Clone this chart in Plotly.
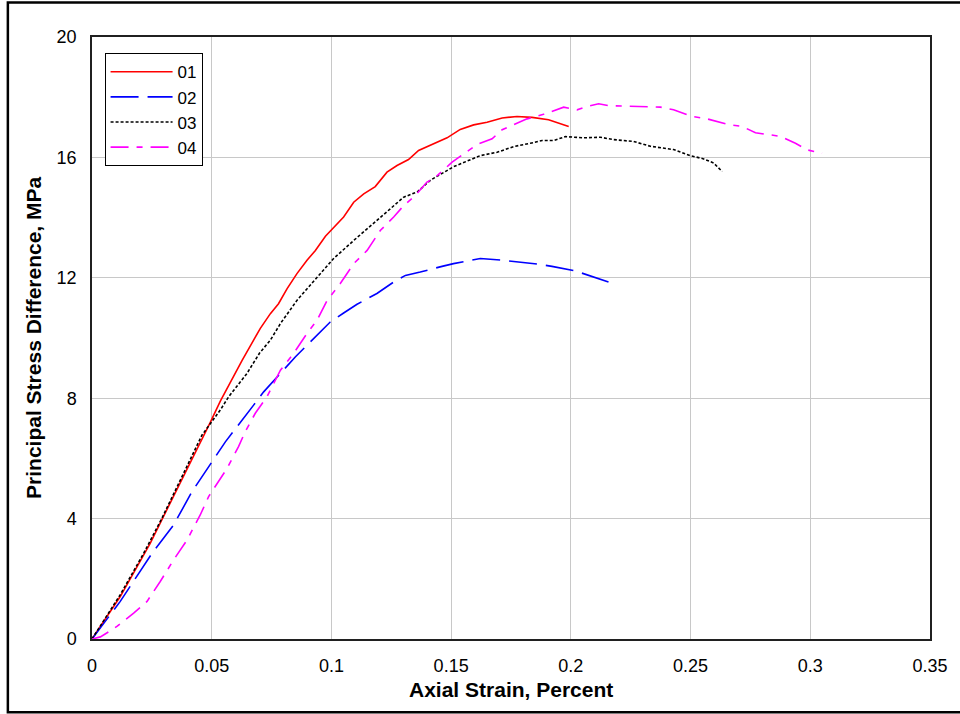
import plotly.graph_objects as go

# ---- data ----
x01 = [0, 0.0118, 0.0243, 0.0327, 0.0376, 0.0424, 0.0494, 0.0536, 0.0585, 0.0627, 0.0675,
       0.0703, 0.0745, 0.0779, 0.0815, 0.0856, 0.0898, 0.0933, 0.0975, 0.1009, 0.1051,
       0.1093, 0.1135, 0.1183, 0.1232, 0.1274, 0.1322, 0.1364, 0.1427, 0.1483, 0.1538,
       0.1594, 0.1650, 0.1713, 0.1775, 0.1838, 0.1907, 0.1991]
y01 = [0, 1.41, 3.18, 4.51, 5.30, 6.05, 7.20, 7.90, 8.66, 9.26, 9.93,
       10.32, 10.81, 11.14, 11.64, 12.14, 12.58, 12.91, 13.38, 13.68, 14.02,
       14.51, 14.79, 15.03, 15.51, 15.73, 15.93, 16.23, 16.45, 16.65, 16.93,
       17.08, 17.17, 17.31, 17.36, 17.33, 17.25, 17.03]

x02 = [0, 0.0118, 0.0251, 0.0341, 0.0418, 0.0557, 0.0675, 0.0717, 0.0849, 0.0898, 0.0995,
       0.1051, 0.1107, 0.1190, 0.1260, 0.1309, 0.1371, 0.1462, 0.1510, 0.1622, 0.1664,
       0.1719, 0.1866, 0.1921, 0.2018, 0.2074, 0.2162]
y02 = [0, 1.25, 2.85, 3.79, 4.90, 6.55, 7.77, 8.21, 9.37, 9.76, 10.53,
       10.83, 11.12, 11.48, 11.86, 12.08, 12.19, 12.38, 12.47, 12.64, 12.61,
       12.58, 12.45, 12.38, 12.23, 12.08, 11.85]

x03 = [0, 0.0118, 0.0216, 0.0292, 0.0369, 0.0459, 0.0536, 0.0571, 0.0647, 0.0700, 0.0745,
       0.0787, 0.0856, 0.0940, 0.1009, 0.1093, 0.1149, 0.1211, 0.1302, 0.1358, 0.1413,
       0.1510, 0.1566, 0.1622, 0.1692, 0.1761, 0.1831, 0.1880, 0.1928, 0.1977, 0.2053,
       0.2123, 0.2179, 0.2262, 0.2332, 0.2429, 0.2499, 0.2555, 0.2597, 0.2632]
y03 = [0, 1.47, 2.85, 4.01, 5.28, 6.77, 7.61, 8.05, 8.82, 9.50, 9.93,
       10.48, 11.25, 12.03, 12.64, 13.24, 13.63, 14.07, 14.68, 14.85, 15.24,
       15.69, 15.87, 16.06, 16.17, 16.36, 16.47, 16.56, 16.56, 16.69, 16.65,
       16.67, 16.59, 16.53, 16.37, 16.26, 16.06, 15.95, 15.81, 15.53]

x04 = [0, 0.0035, 0.0084, 0.0104, 0.0174, 0.0230, 0.0285, 0.0341, 0.0397, 0.0452, 0.0487,
       0.0522, 0.0564, 0.0612, 0.0640, 0.0682, 0.0731, 0.0787, 0.0842, 0.0898, 0.0940,
       0.0982, 0.1037, 0.1093, 0.1149, 0.1204, 0.1260, 0.1302, 0.1350, 0.1399, 0.1427,
       0.1504, 0.1608, 0.1671, 0.1713, 0.1817, 0.1886, 0.1970, 0.2026, 0.2068, 0.2116,
       0.2158, 0.2262, 0.2374, 0.2429, 0.2506, 0.2569, 0.2659, 0.2715, 0.2771, 0.2875,
       0.2938, 0.2987, 0.3049]
y04 = [0, 0.07, 0.31, 0.42, 0.86, 1.25, 1.91, 2.63, 3.29, 4.12, 4.73,
       5.17, 5.67, 6.39, 6.89, 7.50, 8.05, 8.93, 9.49, 10.15, 10.59,
       11.25, 11.81, 12.47, 12.91, 13.57, 14.02, 14.40, 14.73, 15.18, 15.29,
       15.84, 16.43, 16.62, 16.92, 17.28, 17.43, 17.67, 17.58, 17.69, 17.78,
       17.72, 17.69, 17.67, 17.58, 17.36, 17.28, 17.09, 17.03, 16.82, 16.70,
       16.47, 16.25, 16.14]

series_names = ["01", "02", "03", "04"]

x_tickvals = [0, 0.05, 0.1, 0.15, 0.2, 0.25, 0.3, 0.35]
x_ticktext = ["0", "0.05", "0.1", "0.15", "0.2", "0.25", "0.3", "0.35"]
y_tickvals = [0, 4, 8, 12, 16, 20]
y_ticktext = ["0", "4", "8", "12", "16", "20"]

FONT = "Liberation Sans, Arial, sans-serif"

fig = go.Figure()
fig.add_trace(go.Scatter(x=x01, y=y01, mode="lines", name=series_names[0],
                         line=dict(color="#ff0000", width=1.6, dash="solid")))
fig.add_trace(go.Scatter(x=x02, y=y02, mode="lines", name=series_names[1],
                         line=dict(color="#0000ff", width=1.6, dash="28px,9px")))
fig.add_trace(go.Scatter(x=x03, y=y03, mode="lines", name=series_names[2],
                         line=dict(color="#000000", width=1.6, dash="3px,2px")))
fig.add_trace(go.Scatter(x=x04, y=y04, mode="lines", name=series_names[3],
                         line=dict(color="#ff00ff", width=1.6, dash="18px,8px,6px,8px")))

axis_common = dict(
    showgrid=True, gridcolor="#c8c8c8", gridwidth=1,
    zeroline=False, showline=True, mirror=True, linecolor="#202020", linewidth=1.5,
    ticks="outside", ticklen=10, tickcolor="rgba(0,0,0,0)",
    tickfont=dict(family=FONT, size=18, color="#000000"),
)

fig.update_layout(
    width=960, height=714,
    margin=dict(l=92, r=30, t=37, b=75),
    paper_bgcolor="white", plot_bgcolor="white",
    showlegend=True,
    legend=dict(x=0.015, y=0.973, xanchor="left", yanchor="top",
                bgcolor="white", bordercolor="#000000", borderwidth=1,
                font=dict(family=FONT, size=17, color="#000000"),
                itemwidth=62, tracegroupgap=0),
    xaxis=dict(range=[0, 0.35], tickvals=x_tickvals, ticktext=x_ticktext, **axis_common),
    yaxis=dict(range=[0, 20], tickvals=y_tickvals, ticktext=y_ticktext, **axis_common),
    annotations=[
        dict(text="<b>Axial Strain, Percent</b>", xref="paper", yref="paper",
             x=0.5, y=-0.0845, xanchor="center", yanchor="middle", showarrow=False,
             font=dict(family=FONT, size=21, color="#000000")),
        dict(text="<b>Principal Stress Difference, MPa</b>", xref="paper", yref="paper",
             x=-0.0705, y=0.5, xanchor="center", yanchor="middle", showarrow=False,
             textangle=-90, font=dict(family=FONT, size=21, color="#000000")),
    ],
    shapes=[
        dict(type="rect", xref="paper", yref="paper",
             x0=-0.1004, x1=1.0378, y0=-0.1218, y1=1.0572,
             line=dict(color="#000000", width=2.5), fillcolor="rgba(0,0,0,0)"),
    ],
)

fig.write_html("out.html", config={"displayModeBar": False},
               post_script="document.body.style.margin='0px';")
